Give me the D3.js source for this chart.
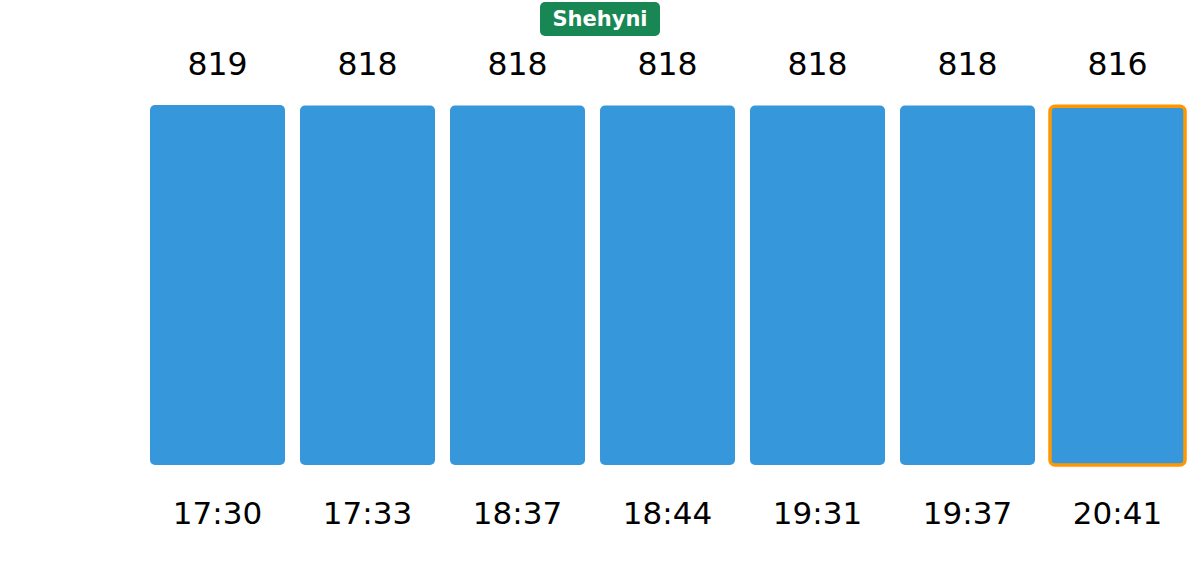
<!DOCTYPE html>
<meta charset="utf-8">
<head>
    <title>Shehyni queue</title>
</head>
<style>
  body {
    margin: 0;
    background: #fff;
    font-family: "DejaVu Sans", sans-serif;
  }
  .bar {
    fill: #3698db;
  }
  .bar.last {
    stroke: #ff9800;
    stroke-width: 3.5px;
  }
  .val, .time {
    fill: #000;
    text-anchor: middle;
  }
  .val { font-size: 31.5px; }
  .time { font-size: 31px; }
</style>
<body>
<script src="https://d3js.org/d3.v7.min.js"></script>
<script>
var width = 1200,
    height = 586;

// data
var times = ["17:30", "17:33", "18:37", "18:44", "19:31", "19:37", "20:41"];
var counts = [819, 818, 818, 818, 818, 818, 816];
var title = "Shehyni";

var data = times.map(function(t, i) { return {time: t, count: counts[i]}; });

var svg = d3.select("body").append("svg")
    .attr("width", width)
    .attr("height", height);

// setup x
var xScale = d3.scaleBand()
    .domain(times)
    .range([142.5, 1192.5])
    .paddingInner(0.1)
    .paddingOuter(0.05);

// setup y
var yScale = d3.scaleLinear()
    .domain([0, d3.max(counts)])
    .range([465, 105]);

// bars
svg.selectAll(".bar")
    .data(data)
  .enter().append("rect")
    .attr("class", function(d, i) { return i === data.length - 1 ? "bar last" : "bar"; })
    .attr("x", function(d) { return xScale(d.time); })
    .attr("y", function(d) { return yScale(d.count); })
    .attr("width", xScale.bandwidth())
    .attr("height", function(d) { return yScale(0) - yScale(d.count); })
    .attr("rx", 5)
    .attr("ry", 5);

// value labels
svg.selectAll(".val")
    .data(data)
  .enter().append("text")
    .attr("class", "val")
    .attr("x", function(d) { return xScale(d.time) + xScale.bandwidth() / 2; })
    .attr("y", 75)
    .text(function(d) { return d.count; });

// time labels
svg.selectAll(".time")
    .data(data)
  .enter().append("text")
    .attr("class", "time")
    .attr("x", function(d) { return xScale(d.time) + xScale.bandwidth() / 2; })
    .attr("y", 524)
    .text(function(d) { return d.time; });

// title badge
var badge = svg.append("g");
badge.append("rect")
    .attr("x", 540)
    .attr("y", 2)
    .attr("width", 120)
    .attr("height", 34)
    .attr("rx", 5)
    .style("fill", "#198754");
badge.append("text")
    .attr("x", 600)
    .attr("y", 26)
    .style("text-anchor", "middle")
    .style("font-weight", "bold")
    .style("font-size", "21px")
    .style("fill", "#fff")
    .text(title);
</script>
</body>
